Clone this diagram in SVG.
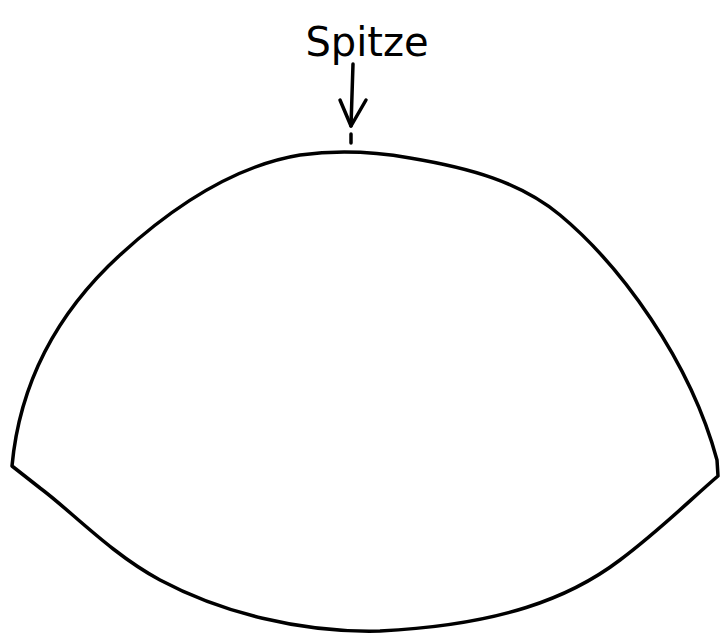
<svg xmlns="http://www.w3.org/2000/svg" width="720" height="640" viewBox="0 0 720 640">
<style>
.ln{fill:none;stroke:#000;stroke-width:3.5;stroke-linecap:round;stroke-linejoin:round}
.lbl{font-family:"DejaVu Sans",sans-serif;font-size:40px;fill:#000}
</style>
<rect width="720" height="640" fill="#fff"/>
<g id="shape">
<path class="ln" d="M12,466 C20,380 60,310 120,255 C180,200 240,165 300,155 C330,151 370,151 410,158 C470,168 520,182 560,215 C620,265 690,360 717,460 L718,476 C690,500 660,530 620,560 C570,598 500,625 380,631 C300,633 220,612 160,580 C110,553 70,510 40,488 L12,466 Z"/>
</g>
<g id="label">
<text class="lbl" x="367" y="56" text-anchor="middle">Spitze</text>
</g>
<g id="connectors">
<path class="ln" d="M353,64 L351,126"/>
<path class="ln" d="M340,100 L351,126 L366,100"/>
<path class="ln" d="M351,134 L351,143"/>
</g>
</svg>
